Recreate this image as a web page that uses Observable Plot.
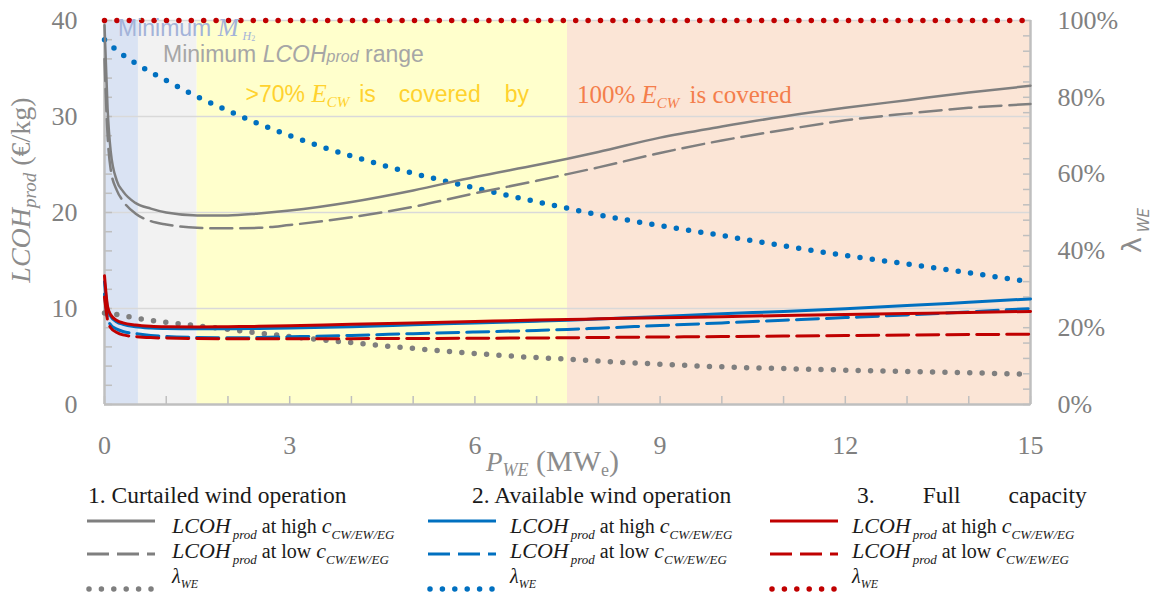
<!DOCTYPE html>
<html>
<head>
<meta charset="utf-8">
<script src="https://cdn.jsdelivr.net/npm/d3@7"></script>
<script src="https://cdn.jsdelivr.net/npm/@observablehq/plot@0.6"></script>
<style>
  body { margin: 0; background: #fff; }
  #chart { width: 1155px; }
  #chart svg { display: block; overflow: visible; }
</style>
</head>
<body>
<div id="chart"></div>
<script>
// Installed wind power P_WE (MW_e) at which the LCOH curves are evaluated
const pWE = [0, 0.05, 0.1, 0.2, 0.3, 0.5, 0.75, 1, 1.5, 2, 2.5, 3, 4, 5, 6, 7, 7.5, 8, 9, 10, 11, 12, 13, 14, 15];
// P_WE grid for the wind-share (λ_WE) curves
const pWELambda = [0, 0.25, 0.5, 1, 1.5, 2, 2.5, 3, 4, 5, 6, 7, 7.5, 8, 9, 10, 11, 12, 13, 14, 15];

// 1. Curtailed wind operation — LCOH_prod (€/kg) and λ_WE (%)
const curtailedHigh = [39.5, 30.8, 26.4, 23.3, 22.2, 21.0, 20.4, 20.0, 19.7, 19.7, 19.9, 20.2, 21.1, 22.3, 23.7, 24.95, 25.6, 26.3, 27.8, 28.95, 30.0, 30.9, 31.7, 32.5, 33.2];
const curtailedLow  = [36.0, 28.0, 24.5, 22.3, 21.2, 19.9, 19.1, 18.75, 18.4, 18.35, 18.4, 18.7, 19.5, 20.6, 22.0, 23.3, 24.0, 24.7, 26.2, 27.5, 28.6, 29.6, 30.3, 30.9, 31.3];
const curtailedLambda = [23.8, 23.3, 22.5, 21.4, 20.5, 19.6, 18.6, 17.7, 16.1, 14.6, 13.3, 12.2, 11.8, 11.3, 10.5, 9.8, 9.35, 8.95, 8.6, 8.25, 7.9];

// 2. Available wind operation
const availableHigh = [12.8, 10.0, 9.2, 8.6, 8.35, 8.1, 7.97, 7.92, 7.88, 7.88, 7.92, 7.97, 8.1, 8.3, 8.5, 8.68, 8.78, 8.9, 9.17, 9.45, 9.7, 9.98, 10.3, 10.65, 11.0];
const availableLow  = [11.5, 9.0, 8.3, 7.85, 7.6, 7.4, 7.2, 7.08, 6.98, 6.95, 6.98, 7.05, 7.2, 7.38, 7.55, 7.72, 7.82, 7.95, 8.23, 8.5, 8.78, 9.05, 9.33, 9.65, 10.0];
const availableLambda = [95.0, 91.6, 88.9, 84.4, 80.2, 76.5, 73.1, 70.0, 64.7, 60.2, 56.4, 52.8, 51.1, 49.4, 46.6, 44.0, 41.3, 38.8, 36.6, 34.3, 31.9];

// 3. Full capacity
const fullHigh = [13.4, 10.2, 9.35, 8.75, 8.5, 8.28, 8.15, 8.1, 8.07, 8.1, 8.14, 8.2, 8.35, 8.5, 8.65, 8.8, 8.85, 8.92, 9.03, 9.15, 9.27, 9.38, 9.48, 9.58, 9.7];
const fullLow  = [11.2, 8.8, 8.0, 7.5, 7.25, 7.08, 6.97, 6.92, 6.87, 6.85, 6.85, 6.85, 6.86, 6.88, 6.9, 6.93, 6.95, 6.98, 7.03, 7.08, 7.13, 7.18, 7.23, 7.28, 7.33];
const fullLambda = [100, 100];
const fullLambdaX = [0, 15];

// Operating zones along P_WE
const zoneFrom = [0, 0.55, 1.5, 7.5];
const zoneTo   = [0.55, 1.5, 7.5, 15];

// Axis ticks
const lcohTicks = [0, 10, 20, 30, 40];
const pWETicks = [0, 3, 6, 9, 12, 15];
const lambdaTicks = [0, 20, 40, 60, 80, 100];

const lcohMax = 40;
const pct = p => p / 100 * lcohMax;   // λ_WE (%) onto the shared vertical range

const zoneFill = ["#dae3f3", "#f2f2f2", "#ffffcc", "#fbe5d6"];
const gray = "#7f7f7f", blue = "#0070c0", red = "#c00000";
const axisGray = "#bfbfbf";
const dotted = {strokeDasharray: "0 12.4", strokeLinecap: "round", strokeWidth: 5.5};
const dashed = {strokeDasharray: "22 8"};

const chart = Plot.plot({
  width: 1155,
  height: 480,
  marginLeft: 104,
  marginRight: 125,
  marginTop: 20,
  marginBottom: 76,
  x: {domain: [0, 15]},
  y: {domain: [0, lcohMax]},
  color: {type: "identity"},
  style: {fontFamily: "Liberation Serif", fontSize: "26px", color: "#808080", background: "transparent", overflow: "visible"},
  marks: [
    Plot.rect(zoneFrom, {x1: zoneFrom, x2: zoneTo, y1: 0, y2: lcohMax, fill: zoneFill}),
    Plot.gridY([10, 20, 30, 40], {stroke: "#d9d9d9", strokeOpacity: 1, strokeWidth: 1.5}),
    Plot.ruleX([0, 15], {stroke: axisGray, strokeWidth: 2.5}),
    Plot.ruleY([0], {stroke: axisGray, strokeWidth: 2.5}),
    // inward minor ticks
    Plot.axisY({ticks: d3.range(0, 41, 2), tickSize: 8, dx: 8, stroke: axisGray, strokeWidth: 1.5, tickFormat: () => "", label: null}),
    Plot.axisY({anchor: "right", ticks: d3.range(0, 26).map(i => i * 1.6), tickSize: 8, dx: -8, stroke: axisGray, strokeWidth: 1.5, tickFormat: () => "", label: null}),
    Plot.axisX({ticks: d3.range(0, 16), tickSize: 8, dy: -8, stroke: axisGray, strokeWidth: 1.5, tickFormat: () => "", label: null}),
    // tick labels
    Plot.axisY({ticks: lcohTicks, tickSize: 0, tickPadding: 27, label: null}),
    Plot.axisY({anchor: "right", ticks: lambdaTicks.map(pct), tickSize: 0, tickPadding: 27, tickFormat: v => Math.round(v / lcohMax * 100) + "%", label: null}),
    Plot.axisX({ticks: pWETicks, tickSize: 0, tickPadding: 31, label: null}),
    // λ_WE curves
    Plot.lineY(curtailedLambda.map(pct), {x: pWELambda, stroke: gray, curve: "monotone-x", ...dotted}),
    Plot.lineY(availableLambda.map(pct), {x: pWELambda, stroke: blue, curve: "monotone-x", ...dotted}),
    // LCOH_prod curves
    Plot.lineY(curtailedHigh, {x: pWE, stroke: gray, strokeWidth: 2.5, curve: "monotone-x"}),
    Plot.lineY(curtailedLow, {x: pWE, stroke: gray, strokeWidth: 2.5, curve: "monotone-x", ...dashed}),
    Plot.lineY(availableHigh, {x: pWE, stroke: blue, strokeWidth: 3, curve: "monotone-x"}),
    Plot.lineY(availableLow, {x: pWE, stroke: blue, strokeWidth: 3, curve: "monotone-x", ...dashed}),
    Plot.lineY(fullHigh, {x: pWE, stroke: red, strokeWidth: 3, curve: "monotone-x"}),
    Plot.lineY(fullLow, {x: pWE, stroke: red, strokeWidth: 3, curve: "monotone-x", ...dashed}),
    Plot.lineY(fullLambda.map(pct), {x: fullLambdaX, stroke: red, ...dotted})
  ]
});

const root = document.getElementById("chart");
root.append(chart);

const sx = chart.scale("x"), sy = chart.scale("y");
const X = sx.apply ? v => sx.apply(v) : d3.scaleLinear(sx.domain, sx.range);
const Y = sy.apply ? v => sy.apply(v) : d3.scaleLinear(sy.domain, sy.range);

// Text with mixed italic / subscript runs
function rich(parent, x, y, parts, attrs = {}) {
  const t = parent.append("text").attr("x", x).attr("y", y)
    .attr("text-anchor", "start").style("white-space", "pre");
  for (const [k, v] of Object.entries(attrs)) t.attr(k, v);
  for (const p of parts) {
    const s = t.append("tspan").text(p.t);
    if (p.i) s.attr("font-style", "italic");
    if (p.size) s.attr("font-size", p.size);
    if (p.family) s.attr("font-family", p.family);
    if (p.dy) s.attr("dy", p.dy);
    if (p.dx) s.attr("dx", p.dx);
    if (p.fill) s.attr("fill", p.fill);
  }
  return t;
}

const svg = d3.select(chart);
const ann = svg.append("g");
const sans = "Liberation Sans", serif = "Liberation Serif";

// zone annotations
rich(ann, X(0) + 14, Y(lcohMax) + 16, [
  {t: "Minimum "},
  {t: "M", i: true, family: serif, size: 25},
  {t: "H", i: true, family: serif, size: 12, dy: 4, dx: 4},
  {t: "2", family: serif, size: 8, dy: 1}
], {"font-family": sans, "font-size": 23, fill: "#a3b3d9"});

rich(ann, X(0) + 59, Y(lcohMax) + 42, [
  {t: "Minimum "},
  {t: "LCOH", i: true},
  {t: "prod", i: true, size: 16},
  {t: " range"}
], {"font-family": sans, "font-size": 23, fill: "#a6a6a6"});

rich(ann, X(1.5) + 49, Y(lcohMax) + 82, [
  {t: ">70% "},
  {t: "E", i: true, family: serif, size: 25},
  {t: "CW", i: true, family: serif, size: 15, dy: 5},
  {t: "is", dy: -5, dx: 10},
  {t: "covered", dx: 23},
  {t: "by", dx: 24}
], {"font-family": sans, "font-size": 23, fill: "#ffd22e"});

rich(ann, X(7.5) + 10, Y(lcohMax) + 83, [
  {t: "100% "},
  {t: "E", i: true},
  {t: "CW", i: true, size: 15, dy: 5},
  {t: " is covered", dy: -5, dx: 4}
], {"font-family": serif, "font-size": 25, fill: "#f47e4b"});

// axis titles
rich(ann, 486, 471, [
  {t: "P", i: true, size: 27},
  {t: "WE", i: true, size: 18, dy: 5},
  {t: " (MW", dy: -5},
  {t: "e", size: 18, dy: 5},
  {t: ")", dy: -5}
], {"font-family": serif, "font-size": 30, fill: "#8c8c8c"});

rich(ann, 0, 0, [
  {t: "LCOH", i: true},
  {t: "prod", i: true, size: 19, dy: 6},
  {t: " (€/kg)", dy: -6}
], {"font-family": serif, "font-size": 28, fill: "#8c8c8c", "text-anchor": "middle", transform: "translate(30,190) rotate(-90)"});

rich(ann, 0, 0, [
  {t: "λ", size: 27},
  {t: " WE", i: true, size: 15, dy: 8}
], {"font-family": "DejaVu Sans", fill: "#8c8c8c", transform: "translate(1141,253) rotate(-90)"});

// legend
const legend = d3.create("svg").attr("width", 1155).attr("height", 118)
  .attr("font-family", serif).style("display", "block");
root.append(legend.node());

const legendColors = [gray, blue, red];
const sampleX = [87, 428, 770];
const labelX = [172, 510, 852];

rich(legend, 88, 23, [{t: "1. Curtailed wind operation"}], {"font-size": 23.5, fill: "#1a1a1a"});
rich(legend, 472, 23, [{t: "2. Available wind operation"}], {"font-size": 23.5, fill: "#1a1a1a"});
rich(legend, 857, 23, [{t: "3."}, {t: "Full", dx: 48}, {t: "capacity", dx: 48}], {"font-size": 23.5, fill: "#1a1a1a"});

const lcohLabel = level => [
  {t: "LCOH", i: true, size: 22},
  {t: "prod", i: true, size: 13, dy: 6, dx: 2},
  {t: ` at ${level} `, size: 20, dy: -6},
  {t: "c", i: true, size: 22},
  {t: "CW/EW/EG", i: true, size: 13, dy: 6}
];

legendColors.forEach((c, k) => {
  const x0 = sampleX[k], x1 = x0 + 68;
  legend.append("line").attr("x1", x0).attr("x2", x1).attr("y1", 41).attr("y2", 41)
    .attr("stroke", c).attr("stroke-width", 3);
  legend.append("line").attr("x1", x0).attr("x2", x1).attr("y1", 74).attr("y2", 74)
    .attr("stroke", c).attr("stroke-width", 3).attr("stroke-dasharray", "22 8");
  legend.append("line").attr("x1", x0 + 2).attr("x2", x1).attr("y1", 109).attr("y2", 109)
    .attr("stroke", c).attr("stroke-width", 5.5).attr("stroke-linecap", "round").attr("stroke-dasharray", "0 12.4");
  rich(legend, labelX[k], 53, lcohLabel("high"), {fill: "#1a1a1a"});
  rich(legend, labelX[k], 78, lcohLabel("low"), {fill: "#1a1a1a"});
  rich(legend, labelX[k], 103, [
    {t: "λ", i: true, size: 20},
    {t: "WE", i: true, size: 12, dy: 5}
  ], {fill: "#1a1a1a"});
});
</script>
</body>
</html>
